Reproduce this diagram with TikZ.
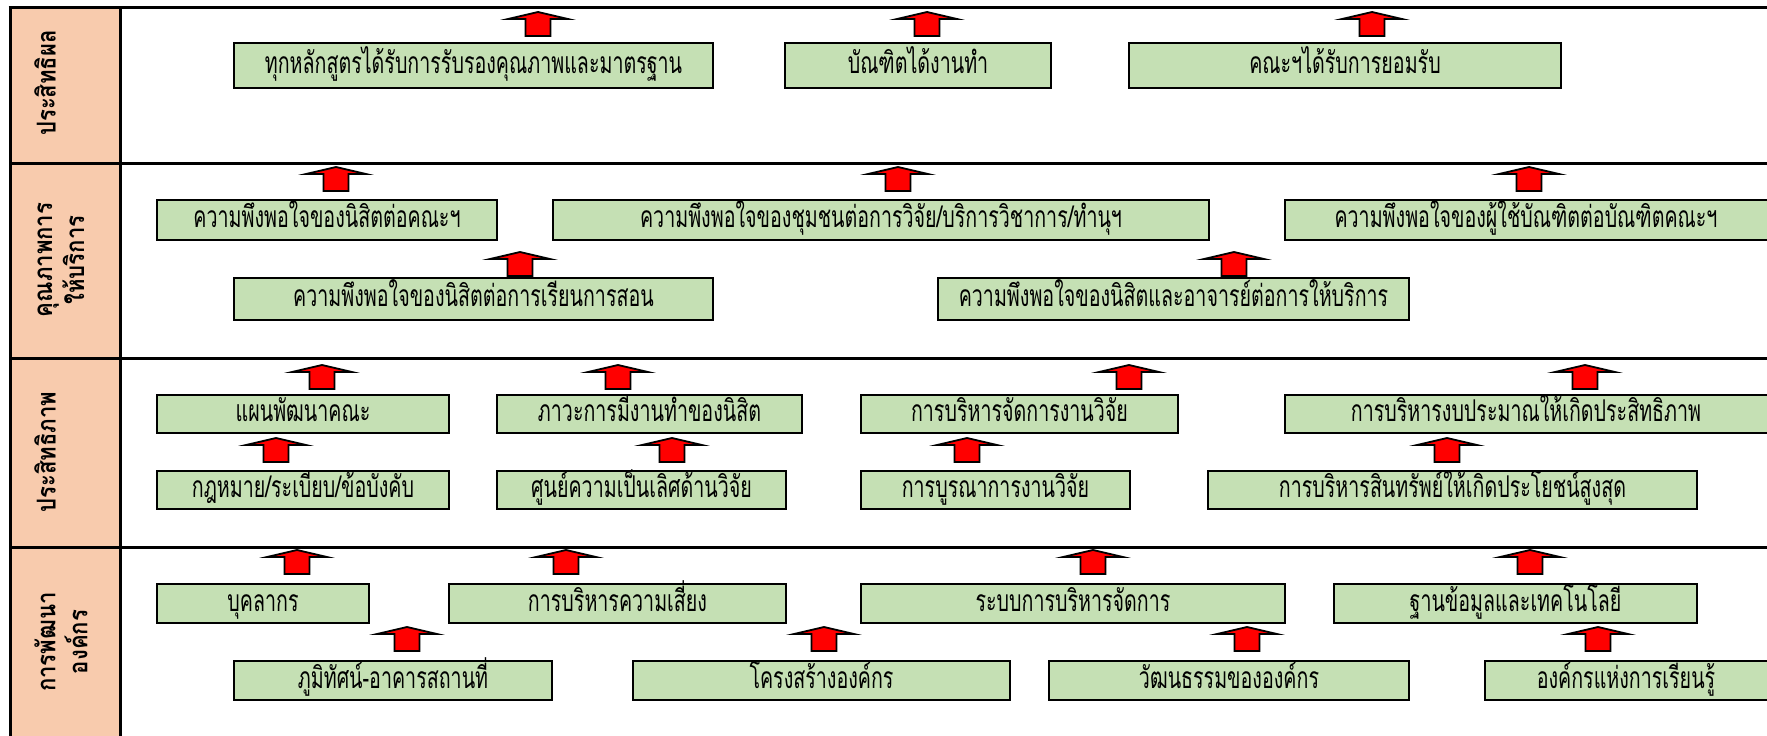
\documentclass[tikz,border=0pt]{standalone}
\usepackage{fontspec}
\newfontfamily\thaifont[Script=Thai,FakeStretch=0.655]{Loma}
\newfontfamily\thaiside[Script=Thai,FakeStretch=0.85]{Loma}
\definecolor{boxgreen}{HTML}{C5E0B4}
\definecolor{sidepeach}{HTML}{F8CBAD}
\tikzset{
  gbox/.style={draw=black, line width=2.5pt, fill=boxgreen, inner sep=0pt,
    font=\thaifont\fontsize{30}{34}\selectfont, text=black, text height=15pt, text depth=0pt},
  sidelabel/.style={rotate=90, font=\thaiside\bfseries\fontsize{26}{32}\selectfont,
    align=center, inner sep=0pt, text=black},
  blockarr/.style={draw=black, line width=1.8pt, fill=red, line join=miter},
  rowline/.style={line width=3pt, draw=black}
}
\newcommand\gbox[6]{\node[gbox, minimum width={(#4-#2)*1pt}, minimum height={(#5-#3)*1pt}] (#1) at ({(#2+#4)/2},{(#3+#5)/2}) {#6};}
\newcommand\uparr[3]{\draw[blockarr] (#2,#3) coordinate (#1) -- ++(30,7) -- ++(-17.5,0) -- ++(0,17) -- ++(-25,0) -- ++(0,-17) -- ++(-17.5,0) -- cycle;}
\begin{document}
\begin{tikzpicture}[x=1pt,y=-1pt]
\useasboundingbox (0,0) rectangle (1767,736);
\clip (0,0) rectangle (1767,736);
% side column
\fill[sidepeach] (10,7) rectangle (120,740);
\draw[rowline] (10,7) -- (10,740);
\draw[rowline] (120,7) -- (120,740);
\draw[rowline] (8.5,7) -- (1770,7);
\draw[rowline] (10,163) -- (1770,163);
\draw[rowline] (10,358) -- (1770,358);
\draw[rowline] (10,547) -- (1770,547);
% side labels
\node[sidelabel] (s1) at (45,83) {ประสิทธิผล};
\node[sidelabel] (s2) at (61,260) {คุณภาพการ\\ให้บริการ};
\node[sidelabel] (s3) at (45,452) {ประสิทธิภาพ};
\node[sidelabel] (s4) at (61,642) {การพัฒนา\\องค์กร};
% row 1
\gbox{A}{234}{43}{713}{88}{ทุกหลักสูตรได้รับการรับรองคุณภาพและมาตรฐาน}
\gbox{B}{785}{43}{1051}{88}{บัณฑิตได้งานทำ}
\gbox{C}{1129}{43}{1561}{88}{คณะฯได้รับการยอมรับ}
% row 2
\gbox{D}{157}{200}{497}{240}{ความพึงพอใจของนิสิตต่อคณะฯ}
\gbox{E}{553}{200}{1209}{240}{ความพึงพอใจของชุมชนต่อการวิจัย/บริการวิชาการ/ทำนุฯ}
\gbox{F}{1285}{200}{1780}{240}{\hspace*{-13pt}ความพึงพอใจของผู้ใช้บัณฑิตต่อบัณฑิตคณะฯ}
\gbox{G}{234}{278}{713}{320}{ความพึงพอใจของนิสิตต่อการเรียนการสอน}
\gbox{H}{938}{278}{1409}{320}{ความพึงพอใจของนิสิตและอาจารย์ต่อการให้บริการ}
% row 3
\gbox{I}{157}{395}{449}{433}{แผนพัฒนาคณะ}
\gbox{J}{497}{395}{802}{433}{ภาวะการมีงานทำของนิสิต}
\gbox{K}{861}{395}{1178}{433}{การบริหารจัดการงานวิจัย}
\gbox{L}{1285}{395}{1780}{433}{\hspace*{-13pt}การบริหารงบประมาณให้เกิดประสิทธิภาพ}
\gbox{M}{157}{471}{449}{509}{กฎหมาย/ระเบียบ/ข้อบังคับ}
\gbox{N}{497}{471}{786}{509}{ศูนย์ความเป็นเลิศด้านวิจัย}
\gbox{O}{861}{471}{1130}{509}{การบูรณาการงานวิจัย}
\gbox{P}{1208}{471}{1697}{509}{การบริหารสินทรัพย์ให้เกิดประโยชน์สูงสุด}
% row 4
\gbox{Q}{157}{584}{369}{623}{บุคลากร}
\gbox{R}{449}{584}{786}{623}{การบริหารความเสี่ยง}
\gbox{S}{861}{584}{1285}{623}{ระบบการบริหารจัดการ}
\gbox{T}{1334}{584}{1697}{623}{ฐานข้อมูลและเทคโนโลยี}
\gbox{U}{234}{661}{552}{700}{ภูมิทัศน์-อาคารสถานที่}
\gbox{V}{633}{661}{1010}{700}{โครงสร้างองค์กร}
\gbox{W}{1049}{661}{1409}{700}{วัฒนธรรมขององค์กร}
\gbox{X}{1485}{661}{1780}{700}{\hspace*{-13pt}องค์กรแห่งการเรียนรู้}
% arrows
\uparr{a1}{538}{12} \uparr{a2}{927}{12} \uparr{a3}{1372}{12}
\uparr{b1}{336}{167} \uparr{b2}{898}{167} \uparr{b3}{1529}{167}
\uparr{b4}{520}{252} \uparr{b5}{1234}{252}
\uparr{c1}{322}{365} \uparr{c2}{618}{365} \uparr{c3}{1129}{365} \uparr{c4}{1585}{365}
\uparr{c5}{276}{438} \uparr{c6}{672}{438} \uparr{c7}{967}{438} \uparr{c8}{1447}{438}
\uparr{d1}{297}{550} \uparr{d2}{566}{550} \uparr{d3}{1093}{550} \uparr{d4}{1530}{550}
\uparr{d5}{407}{627} \uparr{d6}{824}{627} \uparr{d7}{1247}{627} \uparr{d8}{1598}{627}
\end{tikzpicture}
\end{document}
